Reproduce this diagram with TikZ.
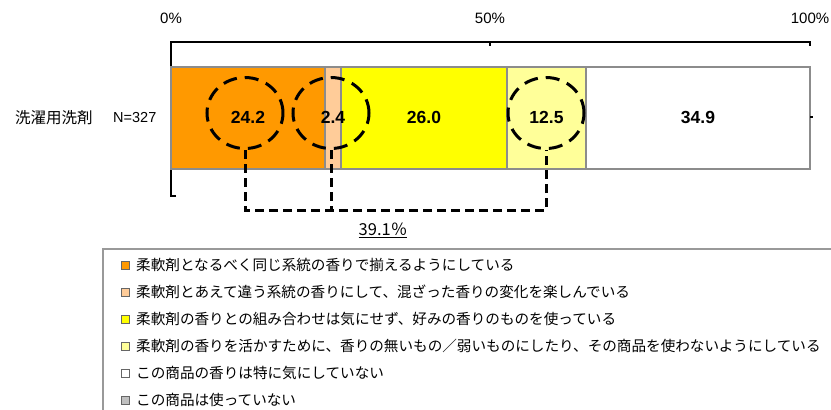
\documentclass[tikz,border=0pt]{standalone}
\usepackage{fontspec}
\setmainfont{Liberation Sans}
\newfontfamily\jp{Noto Sans CJK JP}
\usetikzlibrary{shapes.geometric}
\definecolor{orangebar}{HTML}{FF9900}
\definecolor{peachbar}{HTML}{FFCC99}
\definecolor{yellowbar}{HTML}{FFFF00}
\definecolor{paleyellowbar}{HTML}{FFFF99}
\definecolor{greybar}{HTML}{C0C0C0}
\tikzset{every picture/.style={x=1pt,y=-1pt}}
\tikzset{bar part/.style={draw=black!45, line width=2pt}}
\tikzset{value/.style={font=\bfseries\fontsize{17.5}{20}\selectfont, inner sep=0pt}}
\tikzset{ring/.style={ellipse, draw, line width=3pt, dash pattern=on 14pt off 8pt, minimum width=76pt, minimum height=71pt, inner sep=0pt}}
\tikzset{hook/.style={line width=3pt, dash pattern=on 9pt off 5pt}}
\tikzset{key box/.style={draw=black!60, line width=1pt, minimum size=8pt, inner sep=0pt}}
\tikzset{key text/.style={anchor=west, inner sep=0pt, font=\jp\fontsize{14.6}{16}\selectfont}}
\begin{document}
\begin{tikzpicture}
    \useasboundingbox (0,0) rectangle (831,410);
    % scale
    \draw[line width=2pt] (176,196) -- (171,196) -- (171,42) -- (810,42) -- (810,46);
    \draw[line width=2pt] (490,42) -- (490,46);
    \node[font=\fontsize{15}{17}\selectfont] (p0) at (171,18) {0\%};
    \node[font=\fontsize{15}{17}\selectfont] (p50) at (490,18) {50\%};
    \node[font=\fontsize{15}{17}\selectfont] (p100) at (810,18) {100\%};
    \node[font=\jp\fontsize{15.5}{17}\selectfont, anchor=west, inner sep=0pt] (item) at (15,118) {洗濯用洗剤};
    \node[font=\fontsize{14.5}{16}\selectfont, anchor=west, inner sep=0pt] (n) at (113,118) {N=327};
    % bar
    \foreach \a/\b/\c in {171/325/orangebar, 325/341/peachbar, 341/507/yellowbar, 507/586/paleyellowbar, 586/810/white}
        \draw[bar part, fill=\c] (\a,67) rectangle (\b,169);
    \foreach \a/\b/\v [count=\i] in {171/325/24.2, 325/341/2.4, 341/507/26.0, 507/586/12.5, 586/810/34.9}
        \node[value] (v\i) at ({(\a+\b)/2},117) {\v};
    \draw[line width=2pt] (810,117) -- (813,117);
    % marked parts
    \node[ring] (r1) at (245,113) {};
    \node[ring] (r2) at (331,113) {};
    \node[ring] (r3) at (546,113) {};
    \coordinate (low) at (0,210);
    \draw[hook] (r1.south) -- (r1.south |- low) -| (r3.south);
    \draw[hook] (r2.south) -- (r2.south |- low);
    \node[font=\jp\fontsize{16.5}{18}\selectfont] (total) at (383,230) {\underline{39.1％}};
    % legend
    \draw[black!40, line width=2pt] (103,420) -- (103,249) -- (840,249);
    \foreach \c/\t [count=\i] in {
        orangebar/{柔軟剤となるべく同じ系統の香りで揃えるようにしている},
        peachbar/{柔軟剤とあえて違う系統の香りにして、混ざった香りの変化を楽しんでいる},
        yellowbar/{柔軟剤の香りとの組み合わせは気にせず、好みの香りのものを使っている},
        paleyellowbar/{柔軟剤の香りを活かすために、香りの無いもの／弱いものにしたり、その商品を使わないようにしている},
        white/{この商品の香りは特に気にしていない},
        greybar/{この商品は使っていない}}{
        \node[key box, fill=\c] (k\i) at (125,{238+27*\i}) {};
        \node[key text] (t\i) at (136,{238+27*\i}) {\t};
    }
\end{tikzpicture}
\end{document}
